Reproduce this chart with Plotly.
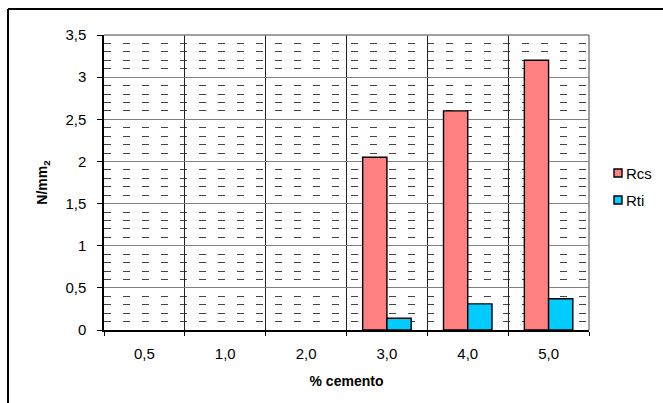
import plotly.graph_objects as go

# Cement content categories and measured strengths (N/mm2)
categories = ["0,5", "1,0", "2,0", "3,0", "4,0", "5,0"]
series_names = ["Rcs", "Rti"]
rcs = [None, None, None, 2.05, 2.6, 3.2]
rti = [None, None, None, 0.14, 0.31, 0.37]
y_ticks = [0, 0.5, 1, 1.5, 2, 2.5, 3, 3.5]
y_tick_labels = ["0", "0,5", "1", "1,5", "2", "2,5", "3", "3,5"]

colors = ["#ff8080", "#00ccff"]

W, H = 663, 403
L, R, T, B = 104, 74, 35, 73
PW, PH = W - L - R, H - T - B


def px_x(p):
    return (p - L) / PW


def px_y(p):
    return (H - B - p) / PH


fig = go.Figure()
for name, vals, col in zip(series_names, [rcs, rti], colors):
    fig.add_trace(go.Bar(name=name, x=categories, y=vals, showlegend=False,
                         marker=dict(color=col, line=dict(color="black", width=1.4))))

font = "Liberation Sans, Arial, sans-serif"

shapes = [
    # gray border on the top and right of the plot area
    dict(type="line", xref="paper", yref="paper", x0=0, x1=1, y0=1, y1=1,
         line=dict(color="#808080", width=1.5)),
    dict(type="line", xref="paper", yref="paper", x0=1, x1=1, y0=0, y1=1,
         line=dict(color="#808080", width=1.5)),
    # outer chart frame
    dict(type="line", xref="paper", yref="paper",
         x0=px_x(8), x1=px_x(663), y0=px_y(9), y1=px_y(9),
         line=dict(color="black", width=2)),
    dict(type="line", xref="paper", yref="paper",
         x0=px_x(8), x1=px_x(8), y0=px_y(9), y1=px_y(403),
         line=dict(color="black", width=2)),
]

# Legend: small swatch squares with series names beside them
annotations = []
legend_rows = [173, 200]
for name, col, yc in zip(series_names, colors, legend_rows):
    shapes.append(dict(type="rect", xref="paper", yref="paper",
                       x0=px_x(614), x1=px_x(622), y0=px_y(yc + 4), y1=px_y(yc - 4),
                       fillcolor=col, line=dict(color="black", width=1.4)))
    annotations.append(dict(text=name, xref="paper", yref="paper",
                            x=px_x(624), y=px_y(yc), xanchor="left", yanchor="middle",
                            showarrow=False, font=dict(size=15, color="black")))

fig.update_layout(
    width=W, height=H,
    margin=dict(l=L, r=R, t=T, b=B),
    paper_bgcolor="white", plot_bgcolor="white",
    barmode="group", bargap=0.4, bargroupgap=0,
    font=dict(family=font, size=14, color="black"),
    showlegend=False,
    xaxis=dict(
        type="category", tickson="boundaries",
        showgrid=True, gridcolor="#202020", gridwidth=1,
        ticks="outside", ticklen=4, tickcolor="black",
        showline=True, linecolor="black", linewidth=1.5,
        tickfont=dict(size=15), ticklabelstandoff=9,
        title=dict(text="<b>% cemento</b>", font=dict(size=14), standoff=15),
    ),
    yaxis=dict(
        range=[0, 3.5], tickvals=y_ticks, ticktext=y_tick_labels,
        showgrid=True, gridcolor="#808080", gridwidth=1,
        ticks="outside", ticklen=5, tickcolor="black",
        showline=True, linecolor="black", linewidth=1.5,
        tickfont=dict(size=15), ticklabelstandoff=8,
        minor=dict(dtick=0.1, showgrid=True, gridcolor="#444444",
                   griddash="7px,12px", gridwidth=1),
        title=dict(text="<b>N/mm<sub>2</sub></b>", font=dict(size=14), standoff=14),
        zeroline=False,
    ),
    shapes=shapes,
    annotations=annotations,
)

fig.write_html("out.html")
